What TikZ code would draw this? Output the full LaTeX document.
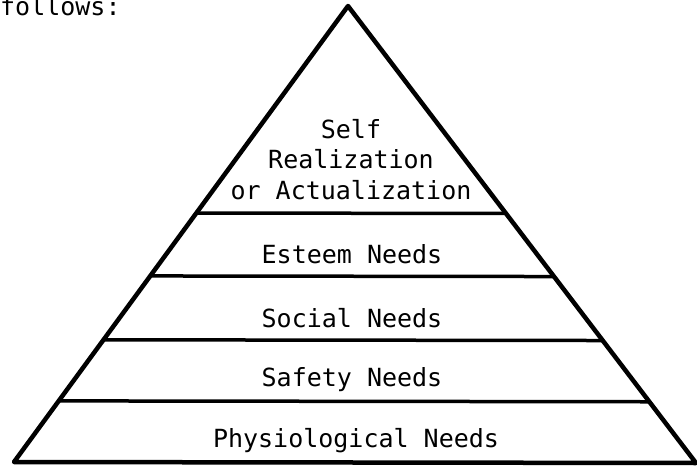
\documentclass[tikz,border=0pt]{standalone}
\usepackage{fontspec}
\setmainfont{DejaVu Sans Mono}
\usetikzlibrary{positioning, calc}

\tikzset{
	level/.style={anchor=base, align=center, font=\fontsize{25}{30.5}\selectfont, inner sep=0pt},
	band/.style={line width=3.5pt},
}

\begin{document}
\begin{tikzpicture}[x=1pt, y=-1pt]
		\useasboundingbox (0, 0) rectangle (697, 471);
		\node[anchor=base west, font=\fontsize{25}{30}\selectfont, inner sep=0pt] (intro) at (0, 16) {follows:};
		\coordinate (apex) at (348, 6);
		\coordinate (bl) at (14, 462);
		\coordinate (br) at (696, 463);
		\draw[line width=4.5pt, line join=round] (bl) -- (apex) -- (br) -- cycle;
		\foreach \t in {0.454, 0.592, 0.732, 0.866}
			\draw[band] ($(apex)!\t!(bl)$) -- ($(apex)!\t!(br)$);
		\node[level] (self) at (351, 199) {Self\\Realization\\or Actualization};
		\node[level] (esteem) at (352, 263) {Esteem Needs};
		\node[level] (social) at (352, 327) {Social Needs};
		\node[level] (safety) at (352, 386) {Safety Needs};
		\node[level] (physio) at (356, 447) {Physiological Needs};
	\end{tikzpicture}
\end{document}
